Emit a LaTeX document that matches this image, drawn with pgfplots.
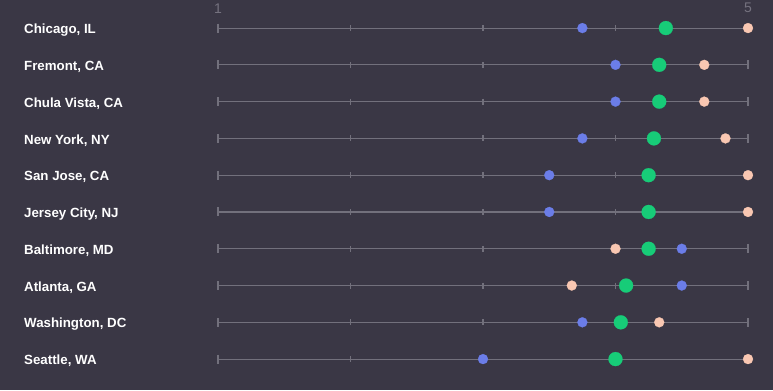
\documentclass[border=0pt]{standalone}
\usepackage{fontspec}
\setmainfont{Liberation Sans}
\usepackage{pgfplots}
\usepackage{pgfplotstable}
\pgfplotsset{compat=1.18}
\definecolor{bg}{HTML}{3A3745}
\definecolor{linegray}{HTML}{72707C}
\definecolor{tickgray}{HTML}{75727F}
\definecolor{dotblue}{HTML}{6B7DE8}
\definecolor{dotgreen}{HTML}{17CC78}
\definecolor{dotpeach}{HTML}{F9C7B2}
\pgfplotstableread{
row blue green peach
0 3.75 4.38 5.00
1 4.00 4.33 4.67
2 4.00 4.33 4.67
3 3.75 4.29 4.83
4 3.50 4.25 5.00
5 3.50 4.25 5.00
6 4.50 4.25 4.00
7 4.50 4.08 3.67
8 3.75 4.04 4.33
9 3.00 4.00 5.00
}\data
\tikzset{city/.style={anchor=west, inner sep=0pt, text=white, font=\bfseries\fontsize{13.3bp}{15bp}\selectfont}}
\begin{document}
\begin{tikzpicture}
\begin{axis}[
 width=773bp, height=390bp, scale only axis,
 xmin=-0.64528, xmax=5.18868,
 ymin=-0.7613, ymax=9.8423, y dir=reverse,
 axis line style={draw=none}, ticks=none,
 axis background/.style={fill=bg},
 clip=false,
]
\pgfplotsinvokeforeach{0,...,9}{
  \addplot[linegray, line width=1.1bp, forget plot] coordinates {(1,#1)(5,#1)};
  \addplot[only marks, mark=|, mark size=4.5bp, linegray, mark options={line width=1.1bp}, forget plot] coordinates {(1,#1)(5,#1)};
  \addplot[only marks, mark=|, mark size=3bp, linegray, mark options={line width=1.1bp}, forget plot] coordinates {(2,#1)(3,#1)(4,#1)};
}
\addplot[dotblue, only marks, mark=*, mark size=5bp, mark options={draw=dotblue, fill=dotblue, line width=0.2bp}] table[x=blue,y=row]{\data};
\addplot[dotpeach, only marks, mark=*, mark size=5bp, mark options={draw=dotpeach, fill=dotpeach, line width=0.2bp}] table[x=peach,y=row]{\data};
\addplot[dotgreen, only marks, mark=*, mark size=7bp, mark options={draw=dotgreen, fill=dotgreen, line width=0.2bp}] table[x=green,y=row]{\data};
\node[text=tickgray, font=\fontsize{14bp}{16bp}\selectfont] at (axis cs:1,-0.54) {1};
\node[text=tickgray, font=\fontsize{14bp}{16bp}\selectfont] at (axis cs:5,-0.54) {5};
\node[city] at (axis cs:-0.4642,0.05) {Chicago, IL};
\node[city] at (axis cs:-0.4642,1.05) {Fremont, CA};
\node[city] at (axis cs:-0.4642,2.05) {Chula Vista, CA};
\node[city] at (axis cs:-0.4642,3.05) {New York, NY};
\node[city] at (axis cs:-0.4642,4.05) {San Jose, CA};
\node[city] at (axis cs:-0.4642,5.05) {Jersey City, NJ};
\node[city] at (axis cs:-0.4642,6.05) {Baltimore, MD};
\node[city] at (axis cs:-0.4642,7.05) {Atlanta, GA};
\node[city] at (axis cs:-0.4642,8.05) {Washington, DC};
\node[city] at (axis cs:-0.4642,9.05) {Seattle, WA};
\end{axis}
\end{tikzpicture}
\end{document}
